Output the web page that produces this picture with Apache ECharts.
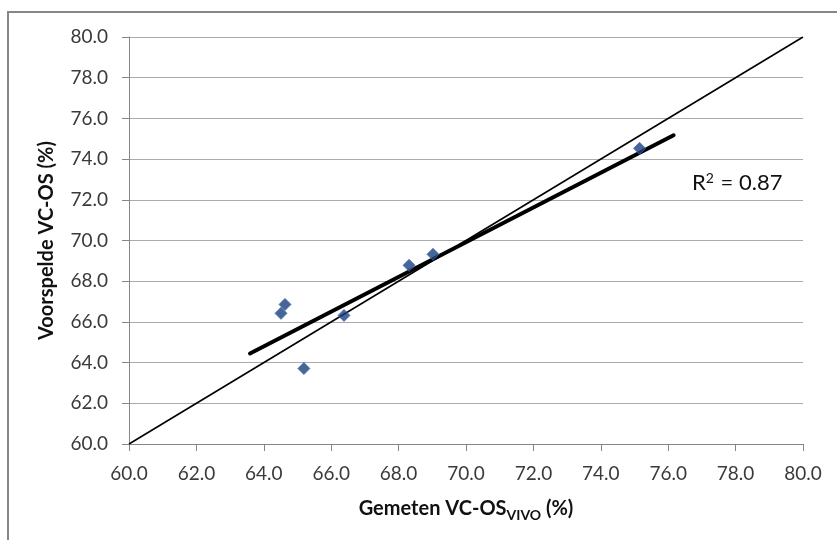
<!DOCTYPE html>
<html>
<head>
<meta charset="utf-8">
<script src="https://cdn.jsdelivr.net/npm/echarts@6/dist/echarts.min.js"></script>
<style>
  html, body { margin: 0; padding: 0; background: #fff; }
  #chart { width: 837px; height: 540px; }
</style>
</head>
<body>
<div id="chart"></div>
<script>
// gemeten (x) vs voorspelde (y) VC-OS
const measured = [64.51, 64.63, 65.19, 66.38, 68.31, 69.02, 75.15];
const predicted = [66.42, 66.86, 63.71, 66.32, 68.78, 69.32, 74.53];
const trendX = [63.59, 76.16];
const trendY = [64.45, 75.17];
// lijn y = x
const identity = [60, 80];

const points = measured.map((x, i) => [x, predicted[i]]);
const trend = trendX.map((x, i) => [x, trendY[i]]);
const diag = identity.map(v => [v, v]);

const FONT = 'Lato';

const chart = echarts.init(document.getElementById('chart'));

const option = {
  animation: false,
  backgroundColor: '#fff',
  grid: { left: 129, right: 34, top: 37, bottom: 96 },
  xAxis: {
    type: 'value',
    min: 60, max: 80, interval: 2,
    axisLine: { show: true, lineStyle: { color: '#868686', width: 1 } },
    axisTick: { show: true, length: 7, lineStyle: { color: '#868686' } },
    splitLine: { show: false },
    axisLabel: {
      formatter: v => v.toFixed(1),
      fontFamily: FONT, fontSize: 19, color: '#3a3a3a', margin: 20
    },
    name: '{b|Gemeten VC-OS}{s|VIVO}{b| (%)}',
    nameLocation: 'middle',
    nameGap: 52,
    nameTextStyle: {
      rich: {
        b: { fontFamily: FONT, fontWeight: 'bold', fontSize: 20, color: '#111' },
        s: { fontFamily: FONT, fontWeight: 'bold', fontSize: 14, color: '#111', padding: [12, 0, 0, 0] }
      }
    }
  },
  yAxis: {
    type: 'value',
    min: 60, max: 80, interval: 2,
    axisLine: { show: true, lineStyle: { color: '#868686', width: 1 } },
    axisTick: { show: true, length: 7, lineStyle: { color: '#868686' } },
    splitLine: { show: true, lineStyle: { color: '#ababab', width: 1 } },
    axisLabel: {
      formatter: v => v.toFixed(1),
      fontFamily: FONT, fontSize: 19, color: '#3a3a3a', margin: 21
    },
    name: 'Voorspelde VC-OS (%)',
    nameLocation: 'middle',
    nameGap: 72,
    nameTextStyle: { fontFamily: FONT, fontWeight: 'bold', fontSize: 20, color: '#111' }
  },
  graphic: [
    {
      type: 'rect',
      shape: { x: 8, y: 12, width: 900, height: 600 },
      style: { fill: 'none', stroke: '#878787', lineWidth: 2 },
      z: -1
    },
    {
      type: 'text',
      left: 692, top: 171,
      style: {
        text: '{r|R}{s|2}{r| = 0.87}',
        rich: {
          r: { fontFamily: FONT, fontSize: 22, fill: '#111' },
          s: { fontFamily: FONT, fontSize: 14, fill: '#111', padding: [0, 1, 10, 0] }
        }
      }
    }
  ],
  series: [
    {
      name: 'y=x',
      type: 'line',
      data: diag,
      symbol: 'none',
      lineStyle: { color: '#000', width: 1.6 },
      z: 2
    },
    {
      name: 'trend',
      type: 'line',
      data: trend,
      symbol: 'none',
      lineStyle: { color: '#000', width: 4, cap: 'round' },
      z: 3
    },
    {
      name: 'data',
      type: 'scatter',
      data: points,
      symbol: 'diamond',
      symbolSize: 12,
      itemStyle: { color: '#1c3f7e', borderColor: '#3f6db3', borderWidth: 1 },
      z: 4
    }
  ]
};

chart.setOption(option);
</script>
</body>
</html>
